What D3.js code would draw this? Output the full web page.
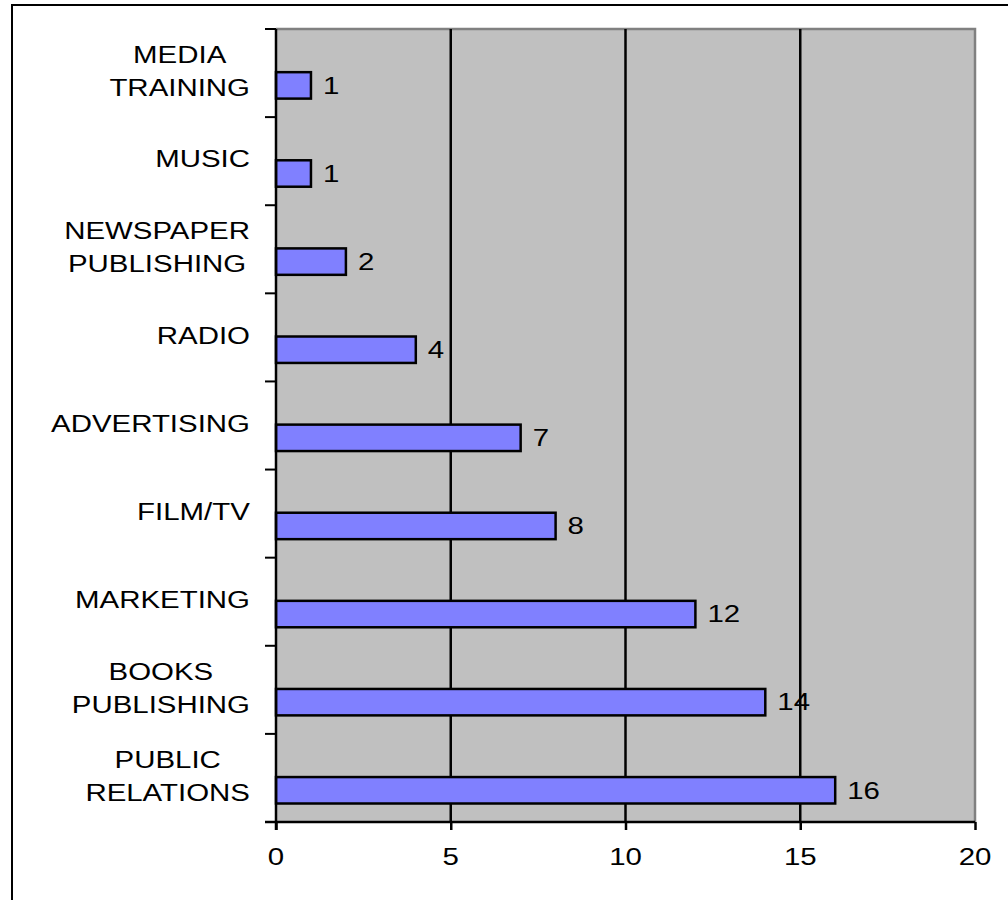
<!DOCTYPE html>
<html>
<head>
<meta charset="utf-8">
<script src="https://cdn.jsdelivr.net/npm/d3@7"></script>
<style>
  body { margin: 0; background: #fff; }
  svg text { font-family: "Liberation Sans", Arial, sans-serif; fill: #000; }
</style>
</head>
<body>
<svg id="chart" width="1008" height="900"></svg>
<script>
// categories, top to bottom; "\n" splits a label over two lines
var categories = [
    "MEDIA\nTRAINING",
    "MUSIC",
    "NEWSPAPER\nPUBLISHING",
    "RADIO",
    "ADVERTISING",
    "FILM/TV",
    "MARKETING",
    "BOOKS\nPUBLISHING",
    "PUBLIC\nRELATIONS"
];
var values = [1, 1, 2, 4, 7, 8, 12, 14, 16];
var xTicks = [0, 5, 10, 15, 20];

function draw(){
    var svg = d3.select("#chart");

    var pL = 276, pR = 975, pT = 29, pB = 822;
    var sx = 1.28;   // the original text is drawn stretched sideways
    var fs = 23;

    var x = d3.scaleLinear().domain([0, 20]).range([pL, pR]);
    var y = d3.scaleBand().domain(categories).range([pT, pB]).padding(0);

    function stretched(px, py, anchor){
        var g = svg.append("g")
            .attr("transform", "translate(" + px + "," + py + ") scale(" + sx + ",1)");
        return g.append("text")
            .attr("font-size", fs)
            .attr("text-anchor", anchor);
    }

    // outer frame (right and bottom sides run off the page)
    svg.append("rect")
        .attr("x", 12).attr("y", 5)
        .attr("width", 1100).attr("height", 1000)
        .attr("fill", "none").attr("stroke", "#000").attr("stroke-width", 2);

    // plot background
    svg.append("rect")
        .attr("x", pL).attr("y", pT)
        .attr("width", pR - pL).attr("height", pB - pT)
        .attr("fill", "#c0c0c0");

    // top & right borders of plot area
    svg.append("path")
        .attr("d", "M" + pL + "," + pT + "H" + pR + "V" + pB)
        .attr("fill", "none").attr("stroke", "#808080").attr("stroke-width", 2.5);

    // vertical grid lines
    svg.selectAll("line.grid")
        .data(xTicks.filter(function(d){ return d > 0 && d < 20; }))
        .enter().append("line")
        .attr("class", "grid")
        .attr("x1", function(d){ return x(d); })
        .attr("x2", function(d){ return x(d); })
        .attr("y1", pT).attr("y2", pB)
        .attr("stroke", "#000").attr("stroke-width", 2.5);

    // bars
    var bh = y.bandwidth() * 0.3;
    svg.selectAll("rect.bar")
        .data(values)
        .enter().append("rect")
        .attr("class", "bar")
        .attr("x", x(0))
        .attr("y", function(d, i){ return y(categories[i]) + y.bandwidth() * 0.49; })
        .attr("width", function(d){ return x(d) - x(0); })
        .attr("height", bh)
        .attr("fill", "#8080ff")
        .attr("stroke", "#000").attr("stroke-width", 2.5);

    // value labels
    values.forEach(function(d, i){
        stretched(x(d) + 12, y(categories[i]) + y.bandwidth() * 0.49 + bh / 2, "start")
            .attr("dy", "0.36em")
            .text(d);
    });

    // x axis ticks
    var xAxis = d3.axisBottom(x).tickValues(xTicks).tickSize(8).tickFormat("");
    var gx = svg.append("g")
        .attr("transform", "translate(0," + pB + ")")
        .call(xAxis);
    gx.select(".domain").remove();
    gx.selectAll(".tick line").attr("stroke", "#000").attr("stroke-width", 2.5);

    xTicks.forEach(function(t){
        stretched(x(t), pB + 43, "middle").text(t);
    });

    svg.append("line")
        .attr("x1", pL - 11).attr("x2", pR)
        .attr("y1", pB).attr("y2", pB)
        .attr("stroke", "#000").attr("stroke-width", 2.5);

    // y axis line + ticks at band edges
    svg.append("line")
        .attr("x1", pL).attr("x2", pL)
        .attr("y1", pT).attr("y2", pB + 8)
        .attr("stroke", "#000").attr("stroke-width", 2.5);

    svg.selectAll("line.ytick")
        .data(d3.range(categories.length + 1))
        .enter().append("line")
        .attr("class", "ytick")
        .attr("x1", pL - 11).attr("x2", pL)
        .attr("y1", function(i){ return pT + i * y.step(); })
        .attr("y2", function(i){ return pT + i * y.step(); })
        .attr("stroke", "#000").attr("stroke-width", 2);

    // category labels (lines centred on each other, block right-aligned at 250)
    var lineH = 33;
    categories.forEach(function(c){
        var lines = c.split("\n");
        var cy = y(c) + y.bandwidth() / 2 - 2;
        var t = stretched(0, 0, "middle");
        lines.forEach(function(l, j){
            t.append("tspan")
                .attr("x", 0)
                .attr("y", cy + (j - (lines.length - 1) / 2) * lineH)
                .attr("dy", "0.36em")
                .text(l);
        });
        var w = t.node().getBBox().width;
        d3.select(t.node().parentNode)
            .attr("transform", "translate(" + (250 - w * sx / 2) + ",0) scale(" + sx + ",1)");
    });
}

draw();
</script>
</body>
</html>
